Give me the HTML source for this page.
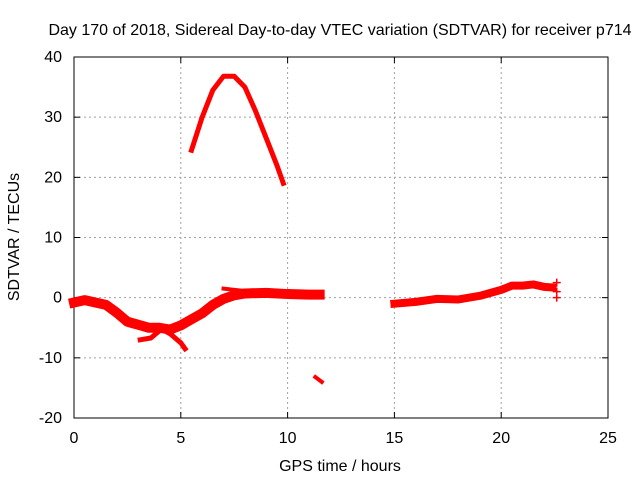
<!DOCTYPE html>
<html><head><meta charset="utf-8"><style>
body{margin:0;background:#fff;}
svg text{font-family:"Liberation Sans",sans-serif;font-size:16px;fill:#000;}
</style></head><body>
<svg width="640" height="480" id="c"></svg>
<script>
const xTicks=[0,5,10,15,20,25];
const yTicks=[-20,-10,0,10,20,30,40];
const segLowHours=[0,0.5,1,1.5,2,2.5,3,3.5,4,4.5,5,5.5,6,6.5,7,7.5,8,9,10,11,11.5];
const segLowVals=[-0.8,-0.4,-0.8,-1.2,-2.5,-4,-4.5,-5,-5,-5.3,-4.6,-3.6,-2.6,-1.2,-0.2,0.4,0.7,0.8,0.6,0.5,0.5];
const segBranchHours=[3.1,3.6,4.1,4.5,5.0,5.2];
const segBranchVals=[-7,-6.7,-5.2,-6,-7.5,-8.5];
const segUpperHours=[7.0,7.5,8.0,8.5];
const segUpperVals=[1.5,1.3,1.1,1.0];
const segArcHours=[5.5,6,6.5,7,7.5,8,8.5,9,9.5,9.8];
const segArcVals=[24.5,30,34.5,36.8,36.8,35,31,26.5,22,19];
const segDipHours=[11.3,11.6];
const segDipVals=[-13.2,-14];
const segLateHours=[15,16,17,18,19,20,20.5,21,21.5,22,22.4];
const segLateVals=[-1,-0.7,-0.2,-0.3,0.3,1.3,2,2,2.2,1.8,1.7];
const crossHours=[22.6,22.6,22.6];
const crossVals=[2.5,1,0];

const NS="http://www.w3.org/2000/svg";
const svg=document.getElementById('c');
const X0=74,X1=608,Y0=418,Y1=57;
const xs=h=>X0+(h-0)/(25-0)*(X1-X0);
const ys=v=>Y0-(v+20)/60*(Y0-Y1);
function el(t,a,p){const e=document.createElementNS(NS,t);for(const k in a)e.setAttribute(k,a[k]);(p||svg).appendChild(e);return e;}

xTicks.forEach(t=>{
  const x=xs(t);
  if(t>0&&t<25){const g=el('line',{x1:x,y1:Y1,x2:x,y2:Y0,stroke:'#a0a0a0','stroke-dasharray':'2,3'});
  
  }
  const l=el('text',{x:x,y:Y0+25,'text-anchor':'middle'});l.textContent=t;
  
  
  el('line',{x1:x,y1:Y0,x2:x,y2:Y0-6,stroke:'#000'});
  el('line',{x1:x,y1:Y1,x2:x,y2:Y1+6,stroke:'#000'});
});
yTicks.forEach(t=>{
  const y=ys(t);
  if(t>-20&&t<40){const g=el('line',{x1:X0,y1:y,x2:X1,y2:y,stroke:'#a0a0a0','stroke-dasharray':'2,3'});
  
  }
  const l=el('text',{x:X0-12,y:y+5,'text-anchor':'end'});l.textContent=t;
  
  
  el('line',{x1:X0,y1:y,x2:X0+6,y2:y,stroke:'#000'});
  el('line',{x1:X1,y1:y,x2:X1-6,y2:y,stroke:'#000'});
});
const fr=el('rect',{x:X0,y:Y1,width:X1-X0,height:Y0-Y1,fill:'none',stroke:'#000'});



function seg(hs,vs,w,name){
  const p=el('polyline',{points:hs.map((h,i)=>xs(h)+','+ys(vs[i])).join(' '),fill:'none',stroke:'#ff0000','stroke-width':w,'stroke-linejoin':'round','stroke-linecap':'square'});
  
  
}
seg(segLowHours,segLowVals,10,'series-low-band');
seg(segBranchHours,segBranchVals,5,'series-branch');
seg(segUpperHours,segUpperVals,4,'series-upper-band');
seg(segArcHours,segArcVals,5,'series-arc');
seg(segDipHours,segDipVals,4,'series-dip');
seg(segLateHours,segLateVals,8,'series-late-band');
crossHours.forEach((h,i)=>{
  const x=xs(h),y=ys(crossVals[i]);
  const c=el('path',{d:`M${x-4},${y}H${x+4}M${x},${y-4}V${y+4}`,stroke:'#ff0000','stroke-width':1.5});
  
  
});

const tt=el('text',{x:340,y:35,'text-anchor':'middle'});tt.textContent='Day 170 of 2018, Sidereal Day-to-day VTEC variation (SDTVAR) for receiver p714';


const xt=el('text',{x:340,y:471,'text-anchor':'middle'});xt.textContent='GPS time / hours';


const yt=el('text',{x:0,y:0,'text-anchor':'middle',transform:'translate(19,237) rotate(-90)'});yt.textContent='SDTVAR / TECUs';


</script>
</body></html>
